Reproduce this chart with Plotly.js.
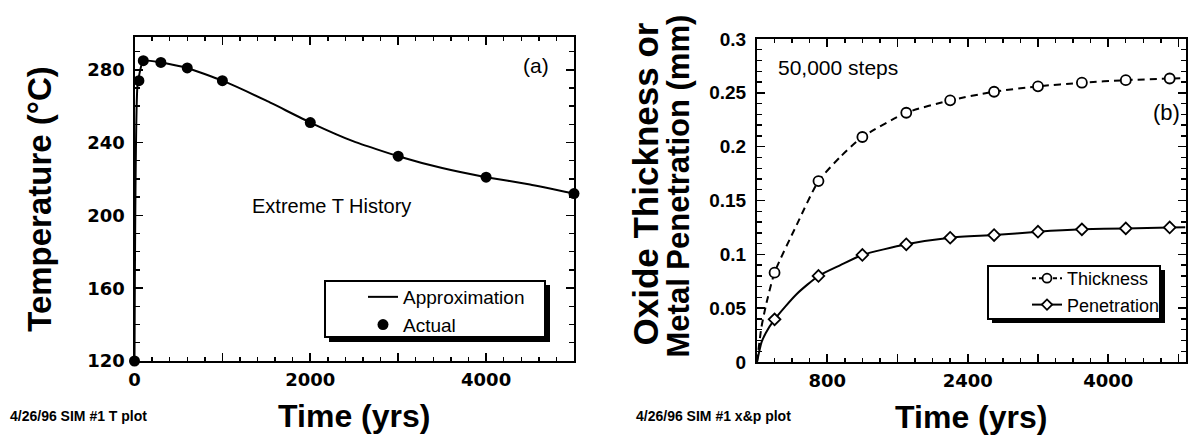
<!DOCTYPE html>
<html>
<head>
<meta charset="utf-8">
<script src="https://cdn.plot.ly/plotly-3.0.1.min.js"></script>
<style>
html,body{margin:0;padding:0;background:#fff;}
#chart{width:1193px;height:437px;}
</style>
</head>
<body>
<div id="chart"></div>
<script>
// ---- Panel (a): temperature history ----
const actualTime = [0, 50, 100, 300, 600, 1000, 2000, 3000, 4000, 5000];
const actualTemp = [120, 274, 285, 284, 281, 274, 251, 232.5, 221, 212];
const approxTime = [0, 35, 100, 300, 600, 1000, 1500, 2000, 2500, 3000, 3500, 4000, 4500, 5000];
const approxTemp = [120, 272, 285, 284, 281, 274, 263, 251, 240.5, 232.5, 226, 221, 217, 212];
const aXTickVals = [0, 1000, 2000, 3000, 4000, 5000];
const aXTickText = ['0', '', '2000', '', '4000', ''];
const aYTickVals = [120, 160, 200, 240, 280];
const aYTickText = ['120', '160', '200', '240', '280'];

// ---- Panel (b): oxide thickness / metal penetration ----
const stepTime = [200, 700, 1200, 1700, 2200, 2700, 3200, 3700, 4200, 4700];
const thickness = [0.083, 0.168, 0.209, 0.2315, 0.243, 0.251, 0.256, 0.2594, 0.2618, 0.2633];
const penetration = [0.0396, 0.0799, 0.0994, 0.1093, 0.1154, 0.1179, 0.121, 0.1232, 0.1241, 0.125];
const curveTime = [0, 50, 100, 200, 450, 700, 950, 1200, 1700, 2200, 2700, 3200, 3700, 4200, 4700, 4880];
const thicknessCurve = [0, 0.032, 0.052, 0.083, 0.127, 0.168, 0.1906, 0.209, 0.2315, 0.243, 0.251, 0.256, 0.2594, 0.2618, 0.2633, 0.2637];
const penetrationCurve = [0, 0.018, 0.027, 0.0396, 0.063, 0.0799, 0.090, 0.0994, 0.1093, 0.1154, 0.1179, 0.121, 0.1232, 0.1241, 0.125, 0.1252];
const bXTickVals = [0, 800, 1600, 2400, 3200, 4000, 4800];
const bXTickText = ['', '800', '', '2400', '', '4000', ''];
const bYTickVals = [0, 0.05, 0.1, 0.15, 0.2, 0.25, 0.3];
const bYTickText = ['0', '0.05', '0.1', '0.15', '0.2', '0.25', '0.3'];

const W = 1193, H = 437;
const px = v => v / W;
const py = v => 1 - v / H;

const ARIAL = 'Liberation Sans, Arial, sans-serif';
const TICKFONT = {family: 'DejaVu Sans, sans-serif', size: 18, color: '#000', weight: 'bold'};

const traces = [
  {x: approxTime, y: approxTemp, xaxis: 'x', yaxis: 'y', mode: 'lines', name: 'Approximation',
   line: {color: '#000', width: 2, shape: 'spline', smoothing: 0.4}, legend: 'legend'},
  {x: actualTime, y: actualTemp, xaxis: 'x', yaxis: 'y', mode: 'markers', name: 'Actual',
   marker: {color: '#000', size: 11, symbol: 'circle'}, cliponaxis: false, legend: 'legend'},
  // panel b curves
  {x: curveTime, y: thicknessCurve, xaxis: 'x2', yaxis: 'y2', mode: 'lines', showlegend: false,
   line: {color: '#000', width: 2, dash: '7px,5px', shape: 'spline', smoothing: 0.6}},
  {x: curveTime, y: penetrationCurve, xaxis: 'x2', yaxis: 'y2', mode: 'lines', showlegend: false,
   line: {color: '#000', width: 2, shape: 'spline', smoothing: 0.6}},
  {x: stepTime, y: thickness, xaxis: 'x2', yaxis: 'y2', mode: 'markers', showlegend: false,
   marker: {color: '#fff', size: 10, symbol: 'circle', line: {color: '#000', width: 1.8}}},
  {x: stepTime, y: penetration, xaxis: 'x2', yaxis: 'y2', mode: 'markers', showlegend: false,
   marker: {color: '#fff', size: 9, symbol: 'diamond', line: {color: '#000', width: 1.8}}},
  // legend entries for panel b
  {x: [null], y: [null], xaxis: 'x2', yaxis: 'y2', mode: 'lines+markers', name: 'Thickness', legend: 'legend2',
   line: {color: '#000', width: 2, dash: '4px,3px'},
   marker: {color: '#fff', size: 9, symbol: 'circle', line: {color: '#000', width: 1.8}}},
  {x: [null], y: [null], xaxis: 'x2', yaxis: 'y2', mode: 'lines+markers', name: 'Penetration', legend: 'legend2',
   line: {color: '#000', width: 2},
   marker: {color: '#fff', size: 8, symbol: 'diamond', line: {color: '#000', width: 1.8}}}
];

function axisBase(extra) {
  return Object.assign({
    showline: true, linecolor: '#000', linewidth: 2, mirror: 'allticks',
    ticks: 'inside', ticklen: 8, tickwidth: 1.6, tickcolor: '#000',
    showgrid: false, zeroline: false, fixedrange: true,
    tickfont: TICKFONT, tickmode: 'array', automargin: false
  }, extra);
}

function note(text, x, y, size, bold, anchor) {
  return {text: text, xref: 'paper', yref: 'paper', x: px(x), y: py(y), showarrow: false,
          xanchor: anchor || 'center', yanchor: 'middle',
          font: {family: ARIAL, size: size, color: '#000', weight: bold ? 'bold' : 'normal'}};
}

const layout = {
  width: W, height: H,
  margin: {l: 0, r: 0, t: 0, b: 0},
  paper_bgcolor: '#fff', plot_bgcolor: '#fff',
  font: {family: ARIAL, color: '#000'},
  showlegend: true,
  xaxis: axisBase({
    domain: [px(134.5), px(574)], range: [0, 5000], anchor: 'y',
    tickvals: aXTickVals, ticktext: aXTickText, ticklabelstandoff: 1,
    minor: {tick0: 0, dtick: 200, ticks: 'inside', ticklen: 4, tickwidth: 1.4, tickcolor: '#000'},
    title: {text: 'Time (yrs)', font: {family: ARIAL, size: 32, weight: 'bold'}, standoff: 16}
  }),
  yaxis: axisBase({
    domain: [py(361), py(37)], range: [120, 298], anchor: 'x',
    tickvals: aYTickVals, ticktext: aYTickText, ticklabelstandoff: 4,
    minor: {tick0: 120, dtick: 10, ticks: 'inside', ticklen: 5, tickwidth: 1.4, tickcolor: '#000'},
    title: {text: 'Temperature (°C)', font: {family: ARIAL, size: 33, weight: 'bold'}, standoff: 26}
  }),
  xaxis2: axisBase({
    domain: [px(757), px(1185.5)], range: [0, 4880], anchor: 'y2',
    tickvals: bXTickVals, ticktext: bXTickText, ticklabelstandoff: 1,
    minor: {tick0: 0, dtick: 200, ticks: 'inside', ticklen: 4, tickwidth: 1.4, tickcolor: '#000'},
    title: {text: 'Time (yrs)', font: {family: ARIAL, size: 32, weight: 'bold'}, standoff: 16}
  }),
  yaxis2: axisBase({
    domain: [py(362), py(39)], range: [0, 0.3], anchor: 'x2',
    tickvals: bYTickVals, ticktext: bYTickText, ticklabelstandoff: 5,
    tickfont: {family: ARIAL, size: 19, color: '#000', weight: 'bold'},
    minor: {tick0: 0, dtick: 0.01, ticks: 'inside', ticklen: 5, tickwidth: 1.4, tickcolor: '#000'}
  }),
  legend: {
    x: px(363), y: py(278), xanchor: 'left', yanchor: 'top',
    bgcolor: 'rgba(0,0,0,0)', borderwidth: 0,
    font: {family: ARIAL, size: 19, color: '#000'}, tracegroupgap: 0
  },
  legend2: {
    x: px(1027), y: py(260), xanchor: 'left', yanchor: 'top',
    bgcolor: 'rgba(0,0,0,0)', borderwidth: 0,
    font: {family: ARIAL, size: 18, color: '#000'}, tracegroupgap: 0
  },
  shapes: [
    {type: 'rect', xref: 'paper', yref: 'paper', x0: px(329), x1: px(550), y0: py(285), y1: py(342),
     fillcolor: '#000', line: {width: 0}, layer: 'above'},
    {type: 'rect', xref: 'paper', yref: 'paper', x0: px(325), x1: px(545), y0: py(281), y1: py(337),
     fillcolor: '#fff', line: {color: '#000', width: 2}, layer: 'above'},
    {type: 'rect', xref: 'paper', yref: 'paper', x0: px(992), x1: px(1165), y0: py(270), y1: py(323),
     fillcolor: '#000', line: {width: 0}, layer: 'above'},
    {type: 'rect', xref: 'paper', yref: 'paper', x0: px(988), x1: px(1160), y0: py(266), y1: py(319),
     fillcolor: '#fff', line: {color: '#000', width: 2}, layer: 'above'}
  ],
  annotations: [
    note('(a)', 536, 66, 21, false),
    note('Extreme T History', 331, 206, 20, false),
    note('50,000 steps', 838, 67, 21, false),
    note('(b)', 1166, 113, 22, false),
    note('4/26/96 SIM #1 T plot', 8, 416, 14, true, 'left'),
    note('4/26/96 SIM #1 x&amp;p plot', 634, 416, 14, true, 'left'),
    Object.assign(note('Oxide Thickness or', 644.5, 184, 35, true), {textangle: -90}),
    Object.assign(note('Metal Penetration (mm)', 678.5, 186, 31, true), {textangle: -90})
  ]
};

Plotly.newPlot('chart', traces, layout, {displayModeBar: false, staticPlot: true});
</script>
</body>
</html>
